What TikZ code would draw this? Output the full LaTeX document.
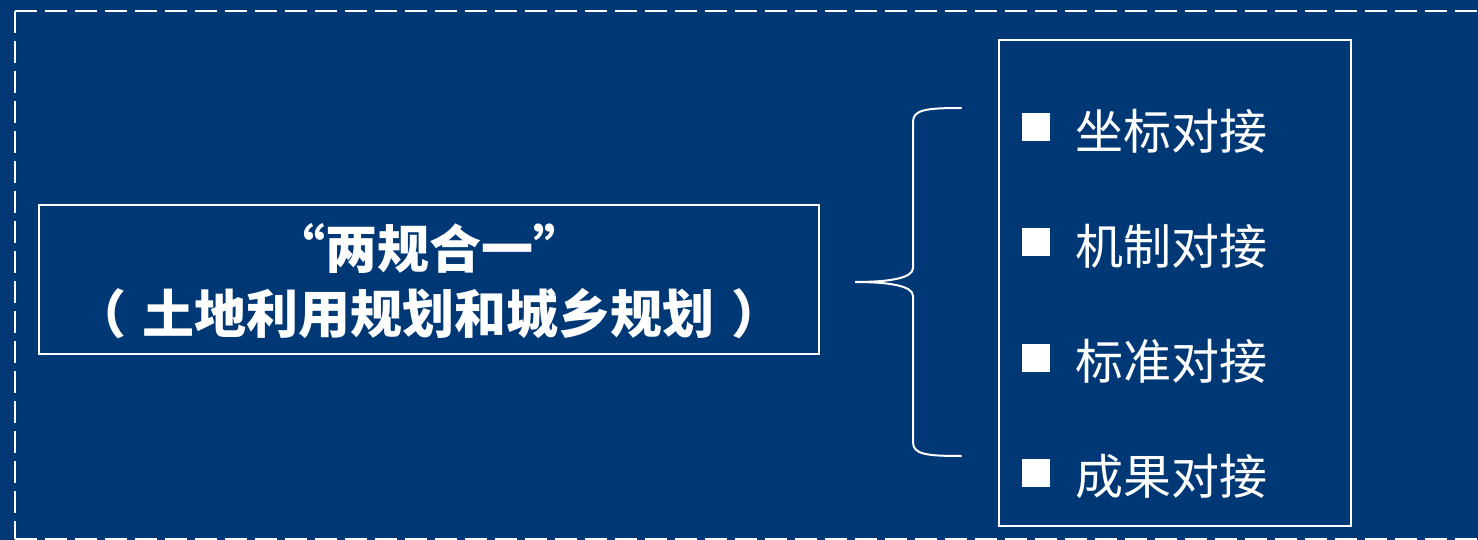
\documentclass[tikz,border=0pt]{standalone}
\usepackage{fontspec}
\newfontfamily\cjk{Noto Sans CJK SC}
\definecolor{bgblue}{RGB}{0,56,118}
\tikzset{
  frameline/.style={draw=white, line width=2.2pt},
  itemsq/.style={fill=white, draw=none, minimum size=28pt, inner sep=0pt},
  itemtxt/.style={text=white, inner sep=0pt, anchor=west, font=\cjk\fontsize{48}{56}\selectfont},
}
\begin{document}
\begin{tikzpicture}[x=1pt,y=-1pt]
\useasboundingbox (0,0) rectangle (1478,540);
\clip (0,0) rectangle (1478,540);
\fill[bgblue] (0,0) rectangle (1478,540);
% dashed outer frame
\draw[white, line width=2.5pt, dash pattern=on 22pt off 8pt] (15,11) -- (1500,11);
\draw[white, line width=2.5pt, dash pattern=on 22pt off 8pt] (15,539) -- (1500,539);
\draw[white, line width=2.5pt, dash pattern=on 22pt off 8pt] (15,11) -- (15,539);
% left box
\node[frameline, minimum width=780pt, minimum height=149pt, inner sep=0pt] (leftbox) at (429,279.5) {};
\node[text=white, align=center, inner sep=0pt, font=\cjk\bfseries\fontsize{52}{65}\selectfont] (title) at (429,281) {“两规合一”\\（\hspace{17pt}土地利用规划和城乡规划\hspace{17pt}）};
% brace
\draw[white, line width=2pt, line cap=round]
  (961,108) .. controls (925,108) and (913,110) .. (913,122) -- (913,268)
  .. controls (913,278) and (890,282) .. (855,282)
  .. controls (890,282) and (913,286) .. (913,296) -- (913,442)
  .. controls (913,454) and (925,456) .. (961,456);
% right box
\node[frameline, minimum width=352pt, minimum height=486pt, inner sep=0pt] (rightbox) at (1175,283) {};
\node[itemsq] (sq1) at (1036,127.5) {};
\node[itemsq] (sq2) at (1036,242.5) {};
\node[itemsq] (sq3) at (1036,357.5) {};
\node[itemsq] (sq4) at (1036,472.5) {};
\node[itemtxt] (t1) at (1075,131) {坐标对接};
\node[itemtxt] (t2) at (1075,246) {机制对接};
\node[itemtxt] (t3) at (1075,361) {标准对接};
\node[itemtxt] (t4) at (1075,476) {成果对接};
\end{tikzpicture}
\end{document}
